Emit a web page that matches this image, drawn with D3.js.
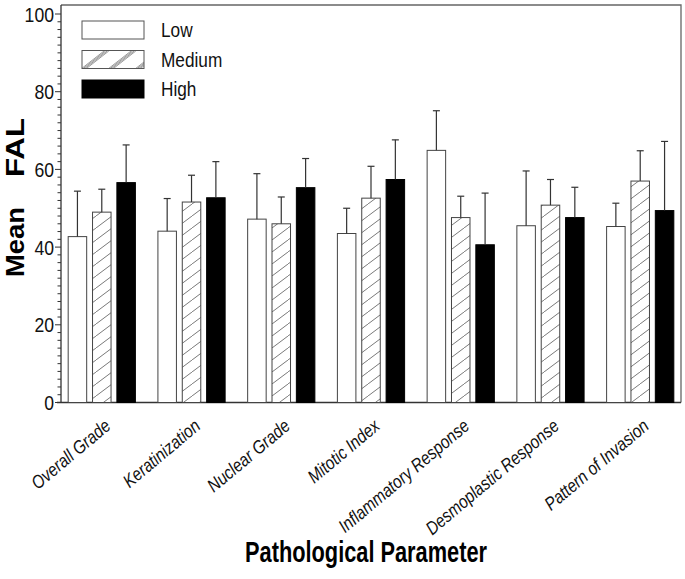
<!DOCTYPE html>
<html>
<head>
<meta charset="utf-8">
<script src="https://cdn.jsdelivr.net/npm/d3@7"></script>
<style>
  body { margin: 0; background: #fff; }
  svg { display: block; font-family: "Liberation Sans", Arial, Helvetica, sans-serif; }
</style>
</head>
<body>
<div id="chart"></div>
<script>
const categories = ['Overall Grade', 'Keratinization', 'Nuclear Grade', 'Mitotic Index',
  'Inflammatory Response', 'Desmoplastic Response', 'Pattern of Invasion'];
const series = ['Low', 'Medium', 'High'];
const lowMean = [42.7, 44.1, 47.2, 43.5, 64.9, 45.5, 45.3];
const lowErr = [11.7, 8.4, 11.7, 6.5, 10.2, 14.1, 6.0];
const medMean = [49.0, 51.6, 46.0, 52.6, 47.6, 50.8, 57.0];
const medErr = [5.9, 6.9, 6.9, 8.2, 5.5, 6.6, 7.8];
const highMean = [56.6, 52.7, 55.3, 57.4, 40.6, 47.6, 49.4];
const highErr = [9.7, 9.3, 7.5, 10.2, 13.3, 7.8, 17.8];
const yTicks = [0, 20, 40, 60, 80, 100];

const width = 685, height = 579;
const plotLeft = 61, plotRight = 681, plotTop = 5, plotBottom = 402.5;
const narrow = 0.84; // reference uses a condensed face

const rows = [];
categories.forEach((c, i) => {
  rows.push({ cat: c, s: 'Low', mean: lowMean[i], err: lowErr[i] });
  rows.push({ cat: c, s: 'Medium', mean: medMean[i], err: medErr[i] });
  rows.push({ cat: c, s: 'High', mean: highMean[i], err: highErr[i] });
});

const svg = d3.select('#chart').append('svg').attr('width', width).attr('height', height);

const defs = svg.append('defs');
const pat = defs.append('pattern').attr('id', 'hatch').attr('patternUnits', 'userSpaceOnUse')
  .attr('width', 16).attr('height', 12);
pat.append('rect').attr('width', 16).attr('height', 12).attr('fill', '#fff');
pat.append('path').attr('d', 'M-16,12 L0,0 M0,12 L16,0 M16,12 L32,0')
  .attr('stroke', '#555').attr('stroke-width', 0.8);

const legPat = defs.append('pattern').attr('id', 'hatchLeg').attr('patternUnits', 'userSpaceOnUse')
  .attr('width', 27).attr('height', 18).attr('y', 51);
legPat.append('rect').attr('width', 27).attr('height', 18).attr('fill', '#fff');
[0, 1.6, 3.2, 4.8].forEach(o => {
  legPat.append('path').attr('d', `M${-27 + o},18 L${-4 + o},0 M${o},18 L${23 + o},0 M${27 + o},18 L${50 + o},0`)
    .attr('stroke', '#555').attr('stroke-width', 0.6);
});

const fills = { Low: '#fff', Medium: 'url(#hatch)', High: '#000' };

const x = d3.scaleBand().domain(categories).range([plotLeft, plotRight]).paddingInner(0.251).paddingOuter(0.08);
const xs = d3.scaleBand().domain(series).range([0, x.bandwidth()]).paddingInner(0.24);
const y = d3.scaleLinear().domain([0, 100]).range([plotBottom, 14]);

// frame
svg.append('path').attr('d', `M${plotLeft},${plotTop} H${plotRight} V${plotBottom}`)
  .attr('fill', 'none').attr('stroke', '#666').attr('stroke-width', 1.3);

// y axis
const yAxis = svg.append('g').attr('transform', `translate(${plotLeft},0)`);
yAxis.append('line').attr('x1', 0).attr('x2', 0).attr('y1', plotTop).attr('y2', plotBottom)
  .attr('stroke', '#333').attr('stroke-width', 1.3);
yAxis.selectAll('.minor').data(d3.range(0, 101, 2)).enter().append('line')
  .attr('x1', d => d % 20 === 0 ? -6 : -3.5).attr('x2', 0)
  .attr('y1', d => y(d)).attr('y2', d => y(d))
  .attr('stroke', '#333').attr('stroke-width', 1);
yAxis.selectAll('.lab').data(yTicks).enter().append('text')
  .attr('transform', d => `translate(-7,${y(d)}) scale(${narrow},1)`)
  .attr('dy', '0.36em')
  .attr('text-anchor', 'end').attr('font-size', 21)
  .attr('fill', '#111').text(d => d);

// x axis line
svg.append('line').attr('x1', plotLeft - 4).attr('x2', plotRight).attr('y1', plotBottom).attr('y2', plotBottom)
  .attr('stroke', '#333').attr('stroke-width', 1.3);

// bars
const bars = svg.append('g');
bars.selectAll('rect').data(rows).enter().append('rect')
  .attr('x', d => x(d.cat) + xs(d.s))
  .attr('y', d => y(d.mean))
  .attr('width', xs.bandwidth())
  .attr('height', d => y(0) - y(d.mean))
  .attr('fill', d => fills[d.s])
  .attr('stroke', d => d.s === 'High' ? '#000' : '#444')
  .attr('stroke-width', 1);

// error bars
const eb = svg.append('g').attr('stroke', '#333').attr('stroke-width', 1.2);
eb.selectAll('.v').data(rows).enter().append('line')
  .attr('x1', d => x(d.cat) + xs(d.s) + xs.bandwidth() / 2)
  .attr('x2', d => x(d.cat) + xs(d.s) + xs.bandwidth() / 2)
  .attr('y1', d => y(d.mean)).attr('y2', d => y(d.mean + d.err));
eb.selectAll('.c').data(rows).enter().append('line')
  .attr('x1', d => x(d.cat) + xs(d.s) + xs.bandwidth() / 2 - 3.5)
  .attr('x2', d => x(d.cat) + xs(d.s) + xs.bandwidth() / 2 + 3.5)
  .attr('y1', d => y(d.mean + d.err)).attr('y2', d => y(d.mean + d.err));

// x labels
svg.append('g').selectAll('text').data(categories).enter().append('text')
  .attr('transform', d => `translate(${x(d) + x.bandwidth() / 2 + 10},428) rotate(-40) scale(${narrow},1)`)
  .attr('text-anchor', 'end').attr('font-size', 18.5).attr('font-style', 'italic')
  .attr('fill', '#111').text(d => d);

// legend
const leg = svg.append('g');
series.forEach((s, i) => {
  const ly = 21 + i * 29.5;
  leg.append('rect').attr('x', 82).attr('y', ly).attr('width', 62).attr('height', 18)
    .attr('fill', s === 'Medium' ? 'url(#hatchLeg)' : fills[s])
    .attr('stroke', s === 'High' ? '#000' : '#555').attr('stroke-width', 1);
  leg.append('text').attr('transform', `translate(161,${ly + 9}) scale(${narrow},1)`).attr('dy', '0.36em')
    .attr('font-size', 20.5).attr('fill', '#111').text(s);
});

// axis titles
svg.append('text').attr('transform', 'translate(24,277) rotate(-90)')
  .attr('font-size', 25).attr('font-weight', 'bold')
  .attr('textLength', 70).attr('lengthAdjust', 'spacingAndGlyphs')
  .attr('fill', '#000').text('Mean');
svg.append('text').attr('transform', 'translate(24,118) rotate(-90)')
  .attr('text-anchor', 'end').attr('font-size', 25).attr('font-weight', 'bold')
  .attr('textLength', 59).attr('lengthAdjust', 'spacingAndGlyphs')
  .attr('fill', '#000').text('FAL');

svg.append('text').attr('x', 245).attr('y', 562)
  .attr('font-size', 29).attr('font-weight', 'bold')
  .attr('textLength', 242).attr('lengthAdjust', 'spacingAndGlyphs')
  .attr('fill', '#000').text('Pathological  Parameter');
</script>
</body>
</html>
